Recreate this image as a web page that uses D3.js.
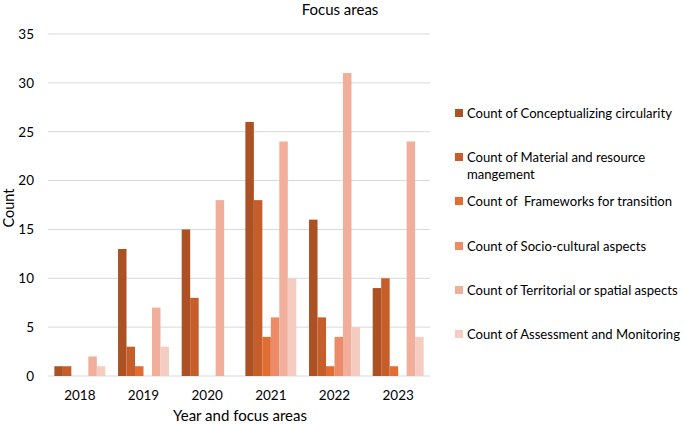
<!DOCTYPE html>
<html>
<head>
<meta charset="utf-8">
<script src="https://cdn.jsdelivr.net/npm/d3@7"></script>
<style>
  body { margin: 0; background: #fff; }
  text { font-family: Lato, "Open Sans", sans-serif; fill: #000; }
</style>
</head>
<body>
<div class="chart"></div>
<script>
// Data
var years = ["2018", "2019", "2020", "2021", "2022", "2023"];
var seriesNames = [
  "Count of Conceptualizing circularity",
  "Count of Material and resource mangement",
  "Count of  Frameworks for transition",
  "Count of Socio-cultural aspects",
  "Count of Territorial or spatial aspects",
  "Count of Assessment and Monitoring"
];
var conceptualizing = [1, 13, 15, 26, 16, 9];
var material = [1, 3, 8, 18, 6, 10];
var frameworks = [0, 1, 0, 4, 1, 1];
var socioCultural = [0, 0, 0, 6, 4, 0];
var territorial = [2, 7, 18, 24, 31, 24];
var assessment = [1, 3, 0, 10, 5, 4];
var yTicks = [0, 5, 10, 15, 20, 25, 30, 35];

var seriesValues = [conceptualizing, material, frameworks, socioCultural, territorial, assessment];
var colors = ["#AB5123", "#C65E2B", "#E26D33", "#EC8B68", "#F1AE9A", "#F5CCC0"];

var svgWidth = 685;
var svgHeight = 424;
var margin = { top: 34, right: 255, bottom: 48, left: 48 };
var width = svgWidth - margin.left - margin.right;
var height = svgHeight - margin.top - margin.bottom;

var svg = d3.select(".chart")
  .append("svg")
  .attr("width", svgWidth)
  .attr("height", svgHeight);

var chartGroup = svg.append("g")
  .attr("transform", `translate(${margin.left}, ${margin.top})`);

// scales
var x0 = d3.scaleBand()
  .domain(years)
  .range([0, width])
  .paddingInner(0.2)
  .paddingOuter(0.1);

var x1 = d3.scaleBand()
  .domain(d3.range(seriesNames.length))
  .range([0, x0.bandwidth()]);

var yScale = d3.scaleLinear()
  .domain([0, 35])
  .range([height, 0]);

// gridlines
chartGroup.append("g")
  .selectAll("line")
  .data(yTicks)
  .enter()
  .append("line")
  .attr("x1", 0)
  .attr("x2", width)
  .attr("y1", d => yScale(d))
  .attr("y2", d => yScale(d))
  .attr("stroke", "#d9d9d9")
  .attr("stroke-width", 1);

// y axis labels
var leftAxis = d3.axisLeft(yScale).tickValues(yTicks).tickSize(0).tickPadding(14);
var yAxisG = chartGroup.append("g").call(leftAxis);
yAxisG.select(".domain").remove();
yAxisG.selectAll("text").style("font-size", "13.5px").attr("font-family", null);

// x axis labels
var xCenter = d3.scaleBand().domain(years).range([0, width]);
var bottomAxis = d3.axisBottom(xCenter).tickSize(0).tickPadding(14);
var xAxisG = chartGroup.append("g")
  .attr("transform", `translate(0, ${height})`)
  .call(bottomAxis);
xAxisG.select(".domain").remove();
xAxisG.selectAll("text").style("font-size", "13.5px").attr("font-family", null);

// bars
var groups = chartGroup.selectAll(".yearGroup")
  .data(years)
  .enter()
  .append("g")
  .attr("class", "yearGroup")
  .attr("transform", d => `translate(${x0(d)}, 0)`);

groups.selectAll("rect")
  .data((d, i) => seriesValues.map((s, j) => ({ s: j, v: s[i] })))
  .enter()
  .append("rect")
  .filter(d => d.v > 0)
  .attr("x", d => x1(d.s))
  .attr("y", d => yScale(d.v))
  .attr("width", x1.bandwidth())
  .attr("height", d => height - yScale(d.v))
  .attr("fill", d => colors[d.s]);

// title
svg.append("text")
  .attr("x", 340)
  .attr("y", 15)
  .attr("text-anchor", "middle")
  .style("font-size", "15px")
  .text("Focus areas");

// axis titles
svg.append("text")
  .attr("transform", "rotate(-90)")
  .attr("x", -208)
  .attr("y", 14)
  .attr("text-anchor", "middle")
  .style("font-size", "14.5px")
  .text("Count");

svg.append("text")
  .attr("x", 240)
  .attr("y", 421)
  .attr("text-anchor", "middle")
  .style("font-size", "15px")
  .text("Year and focus areas");

// legend
var legendRows = [
  { lines: ["Count of Conceptualizing circularity"], y: 113 },
  { lines: ["Count of Material and resource", "mangement"], y: 157 },
  { lines: ["Count of  Frameworks for transition"], y: 201 },
  { lines: ["Count of Socio-cultural aspects"], y: 246 },
  { lines: ["Count of Territorial or spatial aspects"], y: 290 },
  { lines: ["Count of Assessment and Monitoring"], y: 334 }
];

var legend = svg.append("g");
legendRows.forEach(function(row, i) {
  legend.append("rect")
    .attr("x", 455)
    .attr("y", row.y - 4)
    .attr("width", 8)
    .attr("height", 8)
    .attr("fill", colors[i]);
  var t = legend.append("text")
    .attr("x", 467)
    .attr("y", row.y + 5)
    .style("font-size", "13.1px")
    .style("white-space", "pre");
  row.lines.forEach(function(line, k) {
    t.append("tspan")
      .attr("x", 467)
      .attr("dy", k === 0 ? 0 : 17)
      .text(line);
  });
});
</script>
</body>
</html>
